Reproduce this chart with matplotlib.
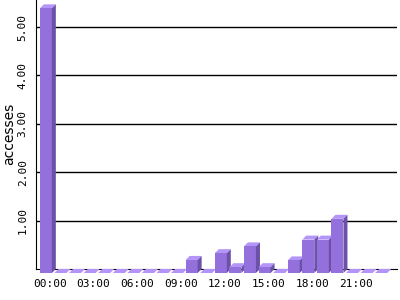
import matplotlib
matplotlib.use("Agg")
import matplotlib.pyplot as plt
from matplotlib.patches import Polygon
import matplotlib.transforms as mtransforms

hours = list(range(24))
values = [5.47, 0, 0, 0, 0, 0, 0, 0, 0, 0, 0.27, 0, 0.41, 0.12, 0.55, 0.12,
          0, 0.26, 0.69, 0.69, 1.12, 0, 0, 0]
tick_hours = [0, 3, 6, 9, 12, 15, 18, 21]
tick_labels = ["00:00", "03:00", "06:00", "09:00", "12:00", "15:00", "18:00", "21:00"]
y_ticks = [1, 2, 3, 4, 5]
y_labels = ["1.00", "2.00", "3.00", "4.00", "5.00"]

FRONT = "#9370DB"
SIDE = "#6B52A8"
TOP = "#B494F8"

W, H = 400, 300
fig = plt.figure(figsize=(W / 100, H / 100), dpi=100)
ax = fig.add_axes([36 / W, 1 - 269 / H, (397 - 36) / W, 269 / H])
ax.set_xlim(-0.95, 23.81)
ax.set_ylim(0, 5.56)

for s in ["top", "right"]:
    ax.spines[s].set_visible(False)
ax.spines["left"].set_color("black")
ax.spines["bottom"].set_color("black")
ax.spines["left"].set_zorder(5)
ax.spines["bottom"].set_zorder(0.5)

ax.set_yticks(y_ticks)
ax.set_yticklabels(y_labels, rotation=90, va="center", family="DejaVu Sans Mono", fontsize=8)
ax.set_xticks(tick_hours)
ax.set_xticklabels(tick_labels, family="DejaVu Sans Mono", fontsize=8)
ax.tick_params(axis="both", length=0)
ax.tick_params(axis="y", pad=6)
ax.tick_params(axis="x", pad=7)
ax.yaxis.grid(True, color="black", linewidth=1)
ax.set_axisbelow(True)
fig.text(9 / W, 1 - 134 / H, "accesses", rotation=90, ha="center", va="center", fontsize=10)

# depth in pixels converted to data units
d_px = 4
inv = ax.transData.inverted()
x0, y0 = inv.transform((0, 0))
x1, y1 = inv.transform((d_px, d_px))
ddx, ddy = x1 - x0, y1 - y0
bw = 0.823

front_tr = mtransforms.offset_copy(ax.transData, fig=fig, x=-d_px, y=-d_px, units="dots")
for h, v in zip(hours, values):
    xl, xr = h - bw / 2, h + bw / 2
    fxl, fxr = xl - ddx, xr - ddx
    fyb, fyt = -ddy, v - ddy
    # top face
    ax.add_patch(Polygon([(fxl, fyt), (fxr, fyt), (xr, v), (xl, v)], closed=True,
                         facecolor=TOP, edgecolor="none", linewidth=0,
                         clip_on=False, zorder=3))
    if v > 0:
        ax.bar(h, v, width=bw, color=FRONT, edgecolor="none", linewidth=0,
               transform=front_tr, clip_on=False, zorder=3)
        ax.add_patch(Polygon([(fxr, fyb), (xr, 0), (xr, v), (fxr, fyt)], closed=True,
                             facecolor=SIDE, edgecolor="none", linewidth=0,
                             clip_on=False, zorder=3))

fig.savefig("out.png", dpi=100)
